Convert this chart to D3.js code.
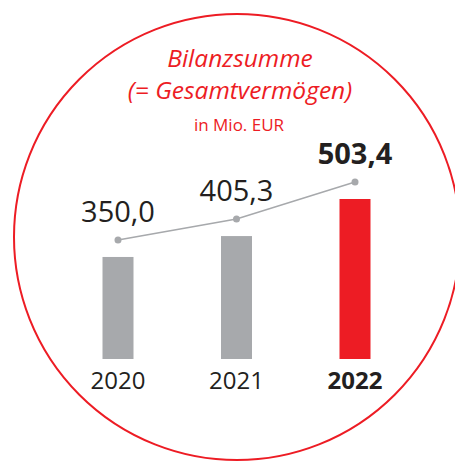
<!DOCTYPE html>
<html>
<head>
<meta charset="utf-8">
<script src="https://cdn.jsdelivr.net/npm/d3@7"></script>
<style>
  body { margin: 0; background: #fff; }
  svg { display: block; font-family: "Open Sans", "Noto Sans", sans-serif; }
</style>
</head>
<body>
<svg id="chart" width="455" height="461"></svg>
<script>
var years = ['2020', '2021', '2022'];
var values = [350.0, 405.3, 503.4];
var labels = ['350,0', '405,3', '503,4'];
var titleLines = ['Bilanzsumme', '(= Gesamtvermögen)'];
var unitLabel = 'in Mio. EUR';

var red = '#ed1c24', grey = '#a7a9ac', ink = '#231f20';

var svg = d3.select('#chart');

// ring
svg.append('circle')
    .attr('cx', 237).attr('cy', 237).attr('r', 223)
    .attr('fill', 'none')
    .attr('stroke', red)
    .attr('stroke-width', 2);

// titles
svg.selectAll('.title')
    .data(titleLines)
    .enter()
    .append('text')
    .attr('class', 'title')
    .attr('x', 240)
    .attr('y', function (d, i) { return 67 + i * 32; })
    .attr('text-anchor', 'middle')
    .attr('font-style', 'italic')
    .attr('font-size', 24.5)
    .attr('fill', red)
    .text(function (d) { return d; });

svg.append('text')
    .attr('x', 239).attr('y', 131)
    .attr('text-anchor', 'middle')
    .attr('font-size', 17)
    .attr('fill', red)
    .text(unitLabel);

var xScale = d3.scalePoint().domain(years).range([118, 355]);
var yScale = d3.scaleLinear().domain([80, 503.4]).range([359, 199]);
var barWidth = 31;
var lift = 17;

var data = years.map(function (y, i) {
    return { year: y, value: values[i], label: labels[i], last: i === years.length - 1 };
});

// bars
svg.selectAll('.bar')
    .data(data)
    .enter()
    .append('rect')
    .attr('class', 'bar')
    .attr('x', function (d) { return xScale(d.year) - barWidth / 2; })
    .attr('y', function (d) { return yScale(d.value); })
    .attr('width', barWidth)
    .attr('height', function (d) { return yScale.range()[0] - yScale(d.value); })
    .attr('fill', function (d) { return d.last ? red : grey; });

// trend line
var line = d3.line()
    .x(function (d) { return xScale(d.year); })
    .y(function (d) { return yScale(d.value) - lift; });

svg.append('path')
    .datum(data)
    .attr('d', line)
    .attr('fill', 'none')
    .attr('stroke', grey)
    .attr('stroke-width', 1.5);

svg.selectAll('.dot')
    .data(data)
    .enter()
    .append('circle')
    .attr('class', 'dot')
    .attr('cx', function (d) { return xScale(d.year); })
    .attr('cy', function (d) { return yScale(d.value) - lift; })
    .attr('r', 3.5)
    .attr('fill', grey);

// value labels
svg.selectAll('.val')
    .data(data)
    .enter()
    .append('text')
    .attr('class', 'val')
    .attr('x', function (d) { return xScale(d.year); })
    .attr('y', function (d) { return yScale(d.value) - lift - 18; })
    .attr('text-anchor', 'middle')
    .attr('font-size', 29)
    .attr('font-weight', function (d) { return d.last ? 'bold' : 'normal'; })
    .attr('fill', ink)
    .text(function (d) { return d.label; });

// year labels
svg.selectAll('.year')
    .data(data)
    .enter()
    .append('text')
    .attr('class', 'year')
    .attr('x', function (d) { return xScale(d.year); })
    .attr('y', 389)
    .attr('text-anchor', 'middle')
    .attr('font-size', 24)
    .attr('font-weight', function (d) { return d.last ? 'bold' : 'normal'; })
    .attr('fill', ink)
    .text(function (d) { return d.year; });
</script>
</body>
</html>
